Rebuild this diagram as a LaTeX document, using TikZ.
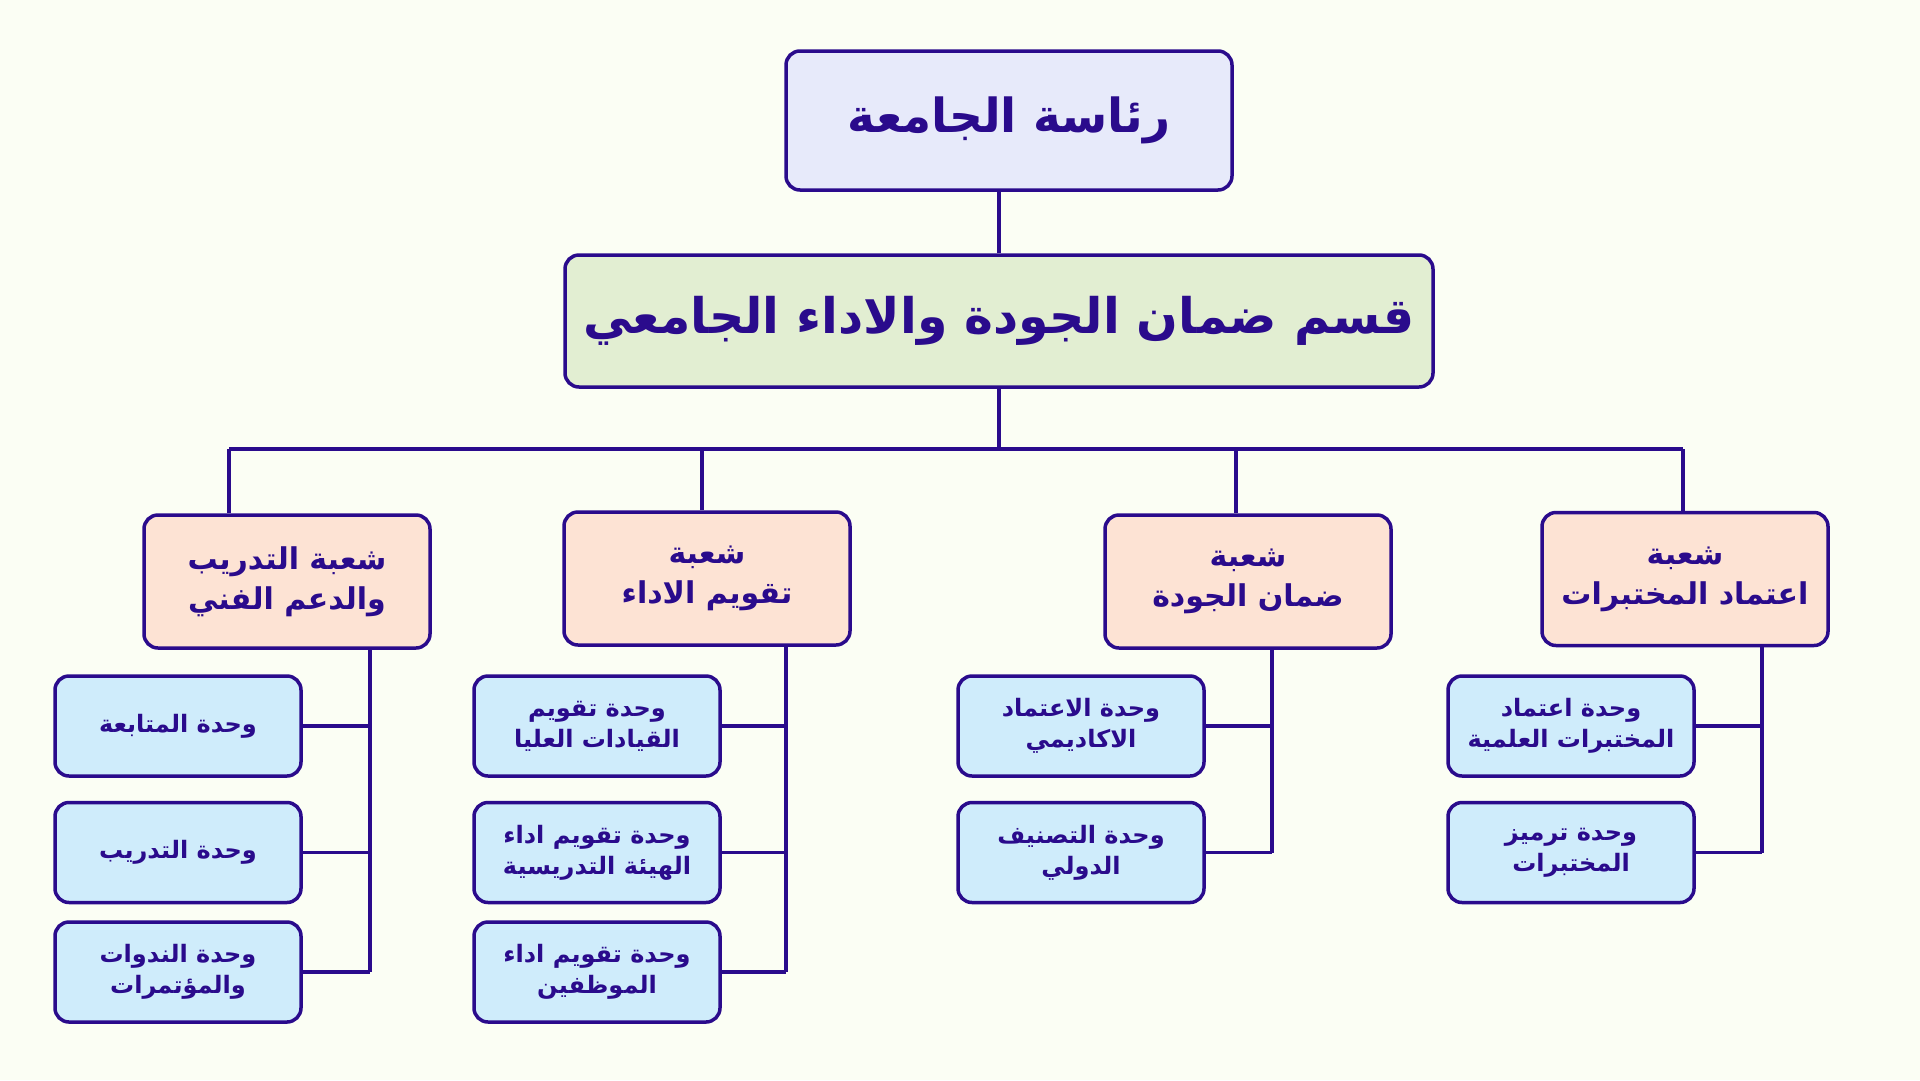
\documentclass[tikz,border=0pt]{standalone}
\usepackage{fontspec}
\usetikzlibrary{positioning}
\TeXXeTstate=1
\newfontfamily\arabicfont[Script=Arabic]{DejaVu Sans}
\definecolor{bgcol}{HTML}{FBFEF4}
\definecolor{ink}{HTML}{2A0B8C}
\definecolor{headfill}{HTML}{E7EAFA}
\definecolor{deptfill}{HTML}{E2EED2}
\definecolor{divfill}{HTML}{FDE3D4}
\definecolor{unitfill}{HTML}{CFECFB}
\newcommand{\rl}[1]{\beginR #1\endR}

\begin{document}
\begin{tikzpicture}[
    x=1pt, y=-1pt,
    every node/.style={text=ink, align=center, inner sep=0pt},
    box/.style={draw=ink, line width=3.5pt, rounded corners=14pt},
    head/.style={box, fill=headfill, minimum width=446pt, minimum height=139pt,
        font=\arabicfont\bfseries\fontsize{47}{52}\selectfont},
    dept/.style={box, fill=deptfill, minimum width=868pt, minimum height=132pt,
        font=\arabicfont\bfseries\fontsize{49}{54}\selectfont},
    div/.style={box, fill=divfill, minimum width=286pt, minimum height=133pt,
        font=\arabicfont\bfseries\fontsize{30}{40}\selectfont},
    unit/.style={box, fill=unitfill, minimum width=246pt, minimum height=100pt,
        font=\arabicfont\bfseries\fontsize{24}{31}\selectfont},
    link/.style={draw=ink, line width=3.5pt},
]
\fill[bgcol] (0,0) rectangle (1920,1080);
\useasboundingbox (0,0) rectangle (1920,1080);

% top levels
\node[head] (top) at (1009, 120.5) {\rl{رئاسة الجامعة}};
\node[dept] (main) at (999, 321) {\rl{قسم ضمان الجودة والاداء الجامعي}};

% divisions
\node[div] (b1) at (287, 581.5) {\rl{شعبة التدريب}\\\rl{والدعم الفني}};
\node[div] (b2) at (707, 578.5) {\rl{شعبة}\\\rl{تقويم الاداء}};
\node[div] (b3) at (1248, 581.5) {\rl{شعبة}\\\rl{ضمان الجودة}};
\node[div] (b4) at (1685, 579) {\rl{شعبة}\\\rl{اعتماد المختبرات}};

% units
\node[unit] (u11) at (178, 726) {\rl{وحدة المتابعة}};
\node[unit] (u12) at (178, 852.5) {\rl{وحدة التدريب}};
\node[unit] (u13) at (178, 972) {\rl{وحدة الندوات}\\\rl{والمؤتمرات}};

\node[unit] (u21) at (597, 726) {\rl{وحدة تقويم}\\\rl{القيادات العليا}};
\node[unit] (u22) at (597, 852.5) {\rl{وحدة تقويم اداء}\\\rl{الهيئة التدريسية}};
\node[unit] (u23) at (597, 972) {\rl{وحدة تقويم اداء}\\\rl{الموظفين}};

\node[unit] (u31) at (1081, 726) {\rl{وحدة الاعتماد}\\\rl{الاكاديمي}};
\node[unit] (u32) at (1081, 852.5) {\rl{وحدة التصنيف}\\\rl{الدولي}};

\node[unit] (u41) at (1571, 726) {\rl{وحدة اعتماد}\\\rl{المختبرات العلمية}};
\node[unit] (u42) at (1571, 852.5) {\rl{وحدة ترميز}\\\rl{المختبرات}};

% bus and drop points
\coordinate (d1) at (229, 449);
\coordinate (d2) at (702, 449);
\coordinate (d3) at (1236, 449);
\coordinate (d4) at (1683, 449);
% trunks under the divisions
\coordinate (t1) at (370, 0);
\coordinate (t2) at (786, 0);
\coordinate (t3) at (1272, 0);
\coordinate (t4) at (1762, 0);

\draw[link] (main.north) -- (main.north |- top.south);
\draw[link] (main.south) -- (main.south |- d1);
\draw[link] (d1) -- (d4);
\foreach \i in {1,...,4}
    \draw[link] (d\i) -- (d\i |- b\i.north);

\draw[link] (t1 |- b1.south) -- (t1 |- u13.east);
\draw[link] (t2 |- b2.south) -- (t2 |- u23.east);
\draw[link] (t3 |- b3.south) -- (t3 |- u32.east);
\draw[link] (t4 |- b4.south) -- (t4 |- u42.east);
\foreach \u in {u11,u12,u13}
    \draw[link] (\u.east) -- (\u.east -| t1);
\foreach \u in {u21,u22,u23}
    \draw[link] (\u.east) -- (\u.east -| t2);
\foreach \u in {u31,u32}
    \draw[link] (\u.east) -- (\u.east -| t3);
\foreach \u in {u41,u42}
    \draw[link] (\u.east) -- (\u.east -| t4);
\end{tikzpicture}
\end{document}
